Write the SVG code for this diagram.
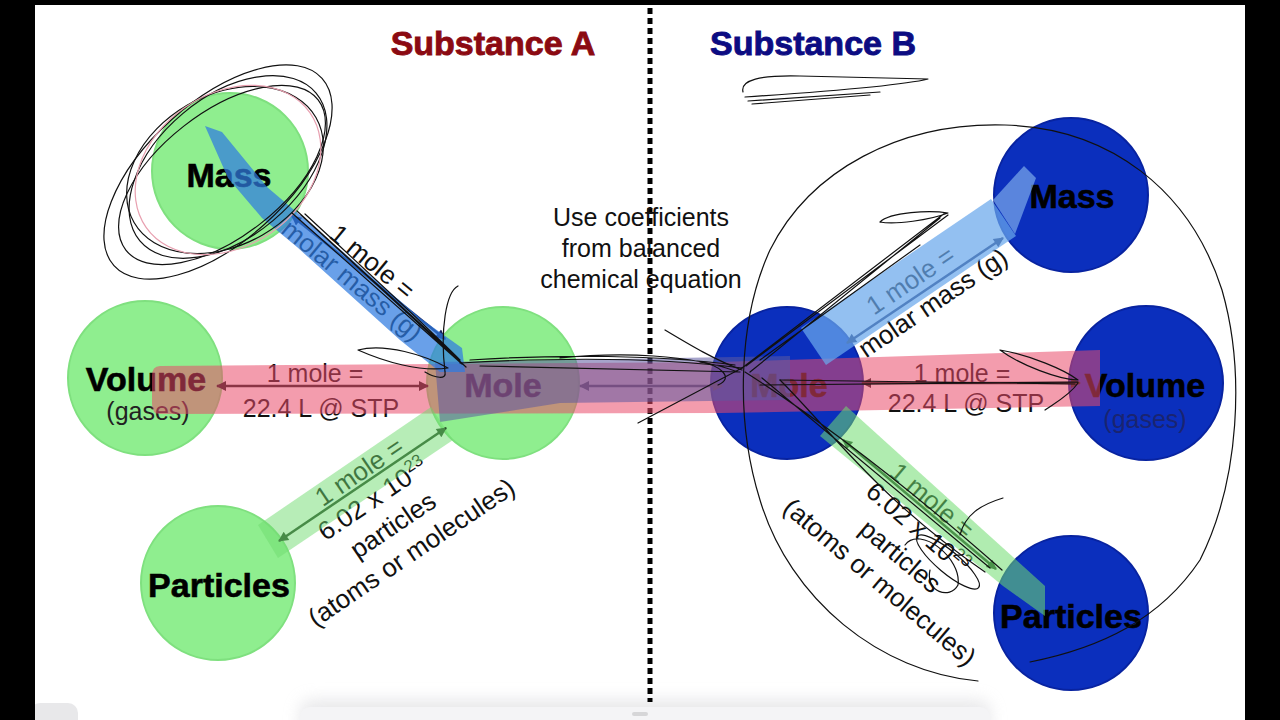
<svg xmlns="http://www.w3.org/2000/svg" width="1280" height="720" viewBox="0 0 1280 720">
<defs>
<style>
.node-g{fill:#8fee8f;stroke:#7fe07f;stroke-width:2}
.node-b{fill:#0b2fbd;stroke:#0823a0;stroke-width:2}
.nl{font-family:"Liberation Sans",Arial,sans-serif;font-weight:bold;font-size:34px;text-anchor:middle;fill:#000;stroke:#000;stroke-width:0.6}
.sub{font-family:"Liberation Sans",Arial,sans-serif;font-size:25px;text-anchor:middle}
.lbl{font-family:"Liberation Sans",Arial,sans-serif;font-size:25px;text-anchor:middle;fill:#111}
.rl{font-family:"Liberation Sans",Arial,sans-serif;font-size:26px;text-anchor:middle;fill:#111}
.title{font-family:"Liberation Sans",Arial,sans-serif;font-weight:bold;font-size:34px;text-anchor:middle;stroke-width:0.9}
.arr{stroke-width:2.5;fill:none}
.scr{fill:none;stroke:#111;stroke-width:1.2;stroke-linecap:round;stroke-linejoin:round}
</style>
<marker id="ah-navy" viewBox="0 0 10 10" refX="9" refY="5" markerWidth="12" markerHeight="10" markerUnits="userSpaceOnUse" orient="auto-start-reverse"><path d="M0,0 L10,5 L0,10 z" fill="#15205a"/></marker>
<marker id="ah-dark" viewBox="0 0 10 10" refX="9" refY="5" markerWidth="12" markerHeight="10" markerUnits="userSpaceOnUse" orient="auto-start-reverse"><path d="M0,0 L10,5 L0,10 z" fill="#1a1a1a"/></marker>
<marker id="ah-green" viewBox="0 0 10 10" refX="9" refY="5" markerWidth="12" markerHeight="10" markerUnits="userSpaceOnUse" orient="auto-start-reverse"><path d="M0,0 L10,5 L0,10 z" fill="#1e3a1e"/></marker>
<marker id="ah-slate" viewBox="0 0 10 10" refX="9" refY="5" markerWidth="12" markerHeight="10" markerUnits="userSpaceOnUse" orient="auto-start-reverse"><path d="M0,0 L10,5 L0,10 z" fill="#2e3a4e"/></marker>
<filter id="soft" x="-20%" y="-50%" width="140%" height="200%"><feGaussianBlur stdDeviation="8"/></filter>
</defs>

<!-- frame -->
<rect x="0" y="0" width="1280" height="720" fill="#ffffff"/>
<rect x="300" y="700" width="690" height="40" rx="12" fill="#d8d8dc" filter="url(#soft)" opacity="0.6"/>
<rect x="300" y="707" width="690" height="30" rx="10" fill="#f4f4f6"/>
<rect x="632" y="712" width="16" height="4" rx="2" fill="#d6d6d8"/>
<rect x="30" y="703" width="48" height="30" rx="10" fill="#e8e8ea"/>
<rect x="0" y="0" width="35" height="720" fill="#000"/>
<rect x="1245" y="0" width="35" height="720" fill="#000"/>
<rect x="0" y="0" width="1280" height="5" fill="#000"/>

<!-- divider -->
<line x1="650" y1="8" x2="650" y2="702" stroke="#000" stroke-width="5" stroke-dasharray="6 4"/>

<!-- titles -->
<text class="title" x="493" y="55" fill="#8b0a12" stroke="#8b0a12">Substance A</text>
<text class="title" x="813" y="55" fill="#0c0c82" stroke="#0c0c82">Substance B</text>

<text class="lbl" x="641" y="226">Use coefficients</text>
<text class="lbl" x="641" y="257">from balanced</text>
<text class="lbl" x="641" y="288">chemical equation</text>

<!-- nodes A -->
<g id="nodeA-mass"><circle class="node-g" cx="230" cy="171" r="78"/><text class="nl" x="229" y="187">Mass</text></g>
<g id="nodeA-volume"><circle class="node-g" cx="145" cy="378" r="77"/><text class="nl" x="146" y="391">Volume</text><text class="sub" x="148" y="420" fill="#222">(gases)</text></g>
<g id="nodeA-mole"><circle class="node-g" cx="503" cy="383" r="76"/><text class="nl" x="503" y="397">Mole</text></g>
<g id="nodeA-particles"><circle class="node-g" cx="218" cy="583" r="77"/><text class="nl" x="219" y="597">Particles</text></g>

<!-- nodes B -->
<g id="nodeB-mass"><circle class="node-b" cx="1071" cy="195" r="77"/><text class="nl" x="1072" y="208">Mass</text></g>
<g id="nodeB-volume"><circle class="node-b" cx="1146" cy="383" r="77"/><text class="nl" x="1145" y="397">Volume</text><text class="sub" x="1145" y="428" fill="#1a2470">(gases)</text></g>
<g id="nodeB-mole"><circle class="node-b" cx="787" cy="383" r="76"/><text class="nl" x="789" y="397" fill="#e0502a" stroke="#e0502a">Mole</text></g>
<g id="nodeB-particles"><circle class="node-b" cx="1071" cy="613" r="77"/><text class="nl" x="1071" y="628">Particles</text></g>

<!-- connectors -->
<g id="connectors">
  <line class="arr" x1="292" y1="216" x2="445" y2="339" stroke="#15205a" marker-start="url(#ah-navy)" marker-end="url(#ah-navy)"/>
  <line class="arr" x1="217" y1="386" x2="428" y2="386" stroke="#1a1a1a" marker-start="url(#ah-dark)" marker-end="url(#ah-dark)"/>
  <line class="arr" x1="279" y1="541" x2="446" y2="428" stroke="#1e3a1e" marker-start="url(#ah-green)" marker-end="url(#ah-green)"/>
  <line class="arr" x1="580" y1="386" x2="722" y2="386" stroke="#2e3a4e" marker-start="url(#ah-slate)" marker-end="url(#ah-slate)"/>
  <line class="arr" x1="847" y1="343" x2="1003" y2="238" stroke="#15205a" marker-start="url(#ah-navy)" marker-end="url(#ah-navy)"/>
  <line class="arr" x1="862" y1="383" x2="1080" y2="383" stroke="#1a1a1a" marker-start="url(#ah-dark)" marker-end="url(#ah-dark)"/>
  <line class="arr" x1="843" y1="440" x2="996" y2="569" stroke="#1e3a1e" marker-start="url(#ah-green)" marker-end="url(#ah-green)"/>

  <!-- labels -->
  <g transform="translate(367,278) rotate(39.5)">
    <text class="rl" x="-6" y="-7">1 mole  =</text>
    <text class="rl" x="-10" y="20">molar mass (g)</text>
  </g>
  <text class="lbl" x="315" y="382">1 mole  =</text>
  <text class="lbl" x="321" y="417">22.4 L @ STP</text>
  <g transform="translate(361,485) rotate(-34)">
    <text class="rl" x="6" y="-3">1 mole  =</text>
    <text class="rl" x="2" y="27">6.02 x 10<tspan font-size="17" dy="-10">23</tspan></text>
    <text class="rl" x="4" y="60">particles</text>
    <text class="rl" x="4" y="93">(atoms or molecules)</text>
  </g>
  <g transform="translate(925,291) rotate(-34)">
    <text class="rl" x="-6" y="-8">1 mole  =</text>
    <text class="rl" x="0" y="23">molar mass (g)</text>
  </g>
  <text class="lbl" x="962" y="382">1 mole  =</text>
  <text class="lbl" x="966" y="412">22.4 L @ STP</text>
  <g transform="translate(919,505) rotate(40.3)">
    <text class="rl" x="7" y="-3">1 mole  =</text>
    <text class="rl" x="14" y="27">6.02 x 10<tspan font-size="17" dy="-10">23</tspan></text>
    <text class="rl" x="19" y="60">particles</text>
    <text class="rl" x="20" y="93">(atoms or molecules)</text>
  </g>

  <!-- highlight bands -->
  <g id="bands">
    <path d="M152,376 Q152,366 160,366 L720,362 L1100,350 L1100,406 L720,413 L160,414 Q152,414 152,404 Z" fill="#ea4a6a" opacity="0.55"/>
    <polygon points="435,362 790,356 790,400 560,403 440,422" fill="#5d5aa0" opacity="0.55"/>
    <polygon points="205,126 222,132 267,187 300,215 420,318 462,348 465,372 440,372 400,340 297,247 262,218 228,178" fill="#2f7be0" opacity="0.72"/>
    <polygon points="258,525 431,407 453,440 278,558" fill="#6fdc6f" opacity="0.5"/>
    <polygon points="801,328 991,199 1016,236 826,365" fill="#6aa8ec" opacity="0.72"/>
    <polygon points="993,200 1024,166 1036,178 1015,234" fill="#8fc0f2" opacity="0.6"/>
    <polygon points="846,406 1045,586 1045,616 1003,586 820,436" fill="#6fdc6f" opacity="0.55"/>
  </g>
</g>

<!-- handwritten annotations -->
<g id="scribbles" class="scr">
  <ellipse cx="218" cy="172" rx="140" ry="70" transform="rotate(-42 218 172)"/>
  <ellipse cx="228" cy="167" rx="115" ry="70" transform="rotate(-40 228 167)"/>
  <ellipse cx="225" cy="170" rx="105" ry="75" transform="rotate(-30 225 170)"/>
  <ellipse cx="222" cy="175" rx="122" ry="62" transform="rotate(-38 222 175)"/>
  <ellipse cx="228" cy="170" rx="100" ry="76" transform="rotate(-35 228 170)" stroke="#e8a0b0"/>
  <path d="M292,213 L462,364 M297,211 L460,360 M301,215 L466,367 M305,214 C360,265 420,320 458,358"/>
  <path d="M458,286 C446,292 440,330 445,372 C447,380 435,378 425,372"/>
  <path d="M358,350 C385,343 425,355 448,368 C420,372 385,362 358,350"/>
  <path d="M460,363 C550,358 650,356 742,368 M470,360 C560,354 660,355 735,365 M480,366 L740,372 M560,358 C620,352 690,354 738,372"/>
  <path d="M665,330 C690,345 715,360 742,370 M638,423 L742,368 M700,362 C720,365 735,378 718,385"/>
  <path d="M742,368 L945,213 M746,366 L948,215 M750,372 L940,218 M760,360 L920,245 M880,222 C890,212 930,210 948,213 C930,220 895,225 880,222"/>
  <path d="M745,372 C820,420 900,480 1002,570 M762,378 L990,568 M780,380 C830,430 880,500 985,572"/>
  <ellipse cx="948" cy="562" rx="40" ry="11" transform="rotate(40 948 562)"/>
  <path d="M905,545 C920,525 962,558 958,585 C950,600 925,592 930,570 M1003,498 C980,505 965,515 960,535"/>
  <path d="M760,385 L1078,382 M780,380 L1075,384 M1000,350 C1030,355 1065,370 1078,380 C1060,380 1020,365 1000,350 M1078,383 C1070,395 1055,403 1045,410"/>
  <path d="M978,681 C880,672 790,600 760,500 C735,420 738,320 770,250 C810,170 900,122 1005,125 C1110,128 1190,190 1222,290 C1245,370 1240,480 1200,560 C1160,620 1100,648 1030,662"/>
  <path d="M743,92 C740,80 760,75 800,76 L928,79 C900,86 820,92 745,97 M748,101 L880,92 M752,104 L870,95"/>
</g>
</svg>
